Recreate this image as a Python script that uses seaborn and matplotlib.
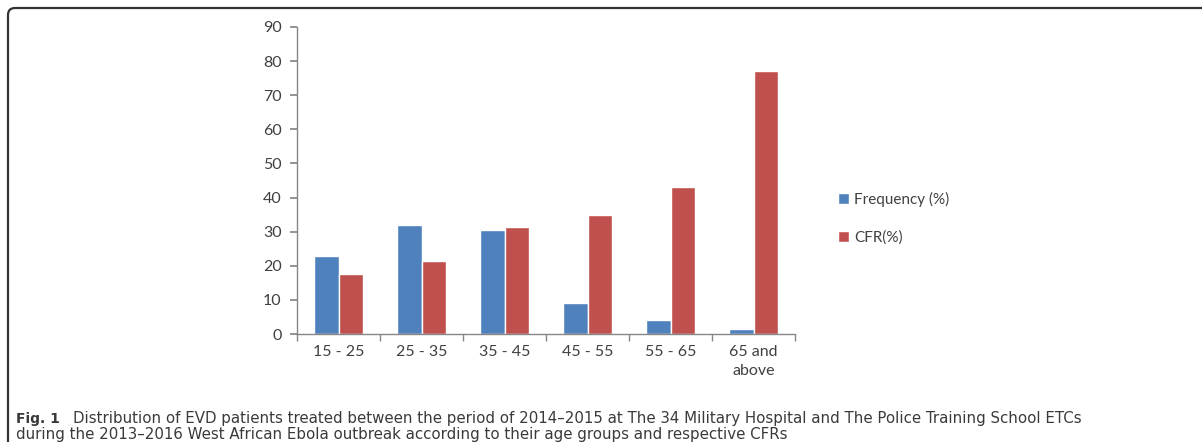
import numpy as np
import pandas as pd
import seaborn as sns
import matplotlib.pyplot as plt
from matplotlib.patches import FancyBboxPatch
from matplotlib.transforms import IdentityTransform

sns.set_theme(style='white')
plt.rcParams['font.family'] = ['Lato', 'DejaVu Sans']

# 数据
age_groups = ['15 - 25', '25 - 35', '35 - 45', '45 - 55', '55 - 65', '65 and\nabove']
frequency = [23, 32, 30.5, 9, 4, 1.5]
cfr = [17.5, 21.5, 31.5, 35, 43, 77]
series_names = ['Frequency (%)', 'CFR(%)']
colors = ['#4F81BD', '#C0504D']

df = pd.DataFrame({
    'age': age_groups * 2,
    'value': frequency + cfr,
    'series': [series_names[0]] * len(age_groups) + [series_names[1]] * len(age_groups),
})

fig = plt.figure(figsize=(12.02, 4.42), dpi=100)
ax = fig.add_axes([297 / 1202, 1 - 334 / 442, (795 - 297) / 1202, (334 - 27) / 442])

sns.barplot(data=df, x='age', y='value', hue='series', palette=colors,
            width=0.6, gap=0, saturation=1, ax=ax, legend=True)

ax.set_ylim(0, 90)
ax.set_xlim(-0.5, len(age_groups) - 0.5)
ax.set_yticks(range(0, 91, 10))
ax.set_xlabel('')
ax.set_ylabel('')

axis_col = '#868686'
for s in ['top', 'right']:
    ax.spines[s].set_visible(False)
for s in ['left', 'bottom']:
    ax.spines[s].set_color(axis_col)
    ax.spines[s].set_linewidth(1.0)

# x 轴刻度在分类边界
ax.set_xticks(np.arange(len(age_groups)), age_groups)
ax.set_xticks(np.arange(-0.5, len(age_groups)), minor=True)
ax.tick_params(axis='x', which='major', length=0, pad=8, labelsize=11.5, labelcolor='#404040')
ax.tick_params(axis='x', which='minor', length=5, color=axis_col, direction='out', bottom=True)
ax.tick_params(axis='y', length=5, color=axis_col, direction='out', left=True,
               labelsize=11.5, labelcolor='#404040', pad=6)
for lab in ax.get_xticklabels():
    lab.set_linespacing(1.4)

handles, labels = ax.get_legend_handles_labels()
ax.legend(handles, labels, loc='upper left', bbox_to_anchor=(824 / 1202, 1 - 178 / 442),
          bbox_transform=fig.transFigure, frameon=False, fontsize=11,
          handlelength=0.75, handleheight=0.75, handletextpad=0.3, labelspacing=1.55,
          labelcolor='#404040')

# 图注
cap = dict(family=['DejaVu Sans'], va='center', color='#3a3a3a')
fig.text(16 / 1202, 1 - 419 / 442, 'Fig. 1', fontsize=10, fontweight='bold', **cap)
fig.text(73 / 1202, 1 - 419 / 442,
         'Distribution of EVD patients treated between the period of 2014–2015 at The 34 Military '
         'Hospital and The Police Training School ETCs',
         fontsize=10.8, **cap)
fig.text(16 / 1202, 1 - 434 / 442,
         'during the 2013–2016 West African Ebola outbreak according to their age groups and respective CFRs',
         fontsize=10.8, **cap)

# 外框
frame = FancyBboxPatch((8, -60), 1300, 434 + 60, boxstyle='round,pad=0,rounding_size=7',
                       transform=IdentityTransform(), fill=False, edgecolor='#333333',
                       linewidth=1.6, clip_on=False)
fig.patches.append(frame)

plt.savefig('out.png', dpi=100)
